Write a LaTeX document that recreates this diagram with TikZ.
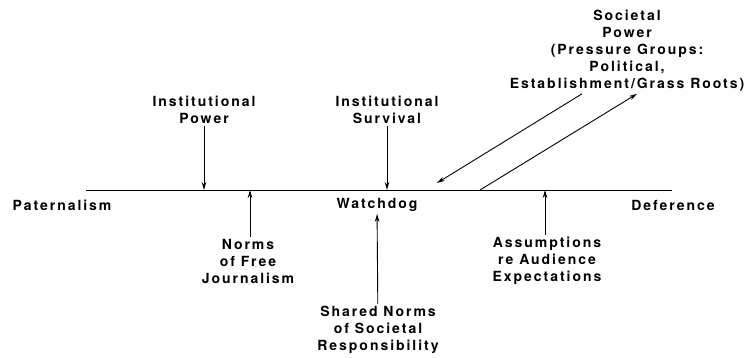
\documentclass[tikz,border=0pt]{standalone}
\usepackage{fontspec}
\setmainfont{TeX Gyre Heros}
\newfontfamily\lblfont[LetterSpace=14]{TeX Gyre Heros}
\usetikzlibrary{arrows.meta}
\tikzset{
  lbl/.style={align=center, inner sep=2pt, font=\lblfont\bfseries\fontsize{14}{17}\selectfont},
  arr/.style={-{Stealth[length=8pt,width=4.5pt]}, line width=0.9pt}
}
\begin{document}
\begin{tikzpicture}[x=1pt,y=-1pt]
\useasboundingbox (0,0) rectangle (747,357);
%The main axis, with the three positions along it
\coordinate (l) at (86,190);
\coordinate (r) at (672,190);
\draw[line width=0.9pt] (l) -- (r);
\node[lbl] (pat) at (62,205) {Paternalism};
\node[lbl] (watch) at (377,205) {Watchdog};
\node[lbl] (def) at (673,205) {Deference};
% influences from above
\node[lbl] (ipow) at (204,110) {Institutional\\Power};
\node[lbl] (isurv) at (387,110) {Institutional\\Survival};
\node[lbl] (soc) at (627,51) {Societal\\Power\\(Pressure Groups:\\Political,\\Establishment/Grass Roots)};
% influences from below
\node[lbl] (nfj) at (248,261) {Norms\\of Free\\Journalism};
\node[lbl] (snsr) at (378,330) {Shared Norms\\of Societal\\Responsibility};
\node[lbl] (are) at (547,261) {Assumptions\\re Audience\\Expectations};
\draw[arr] (ipow) -- (ipow |- l);
\draw[arr] (isurv) -- (isurv |- l);
\draw[arr] ([xshift=2pt]nfj.north) -- ([xshift=2pt]nfj.north |- l);
\draw[arr] (snsr) -- (watch);
\draw[arr] ([xshift=-2pt]are.north) -- ([xshift=-2pt]are.north |- l);
% the two way link with societal power
\coordinate (in) at (437,183);
\coordinate (out) at (480,190);
\draw[arr] ([xshift=-45pt]soc.south) -- (in);
\draw[arr] (out) -- ([xshift=10pt]soc.south);
\end{tikzpicture}
\end{document}
